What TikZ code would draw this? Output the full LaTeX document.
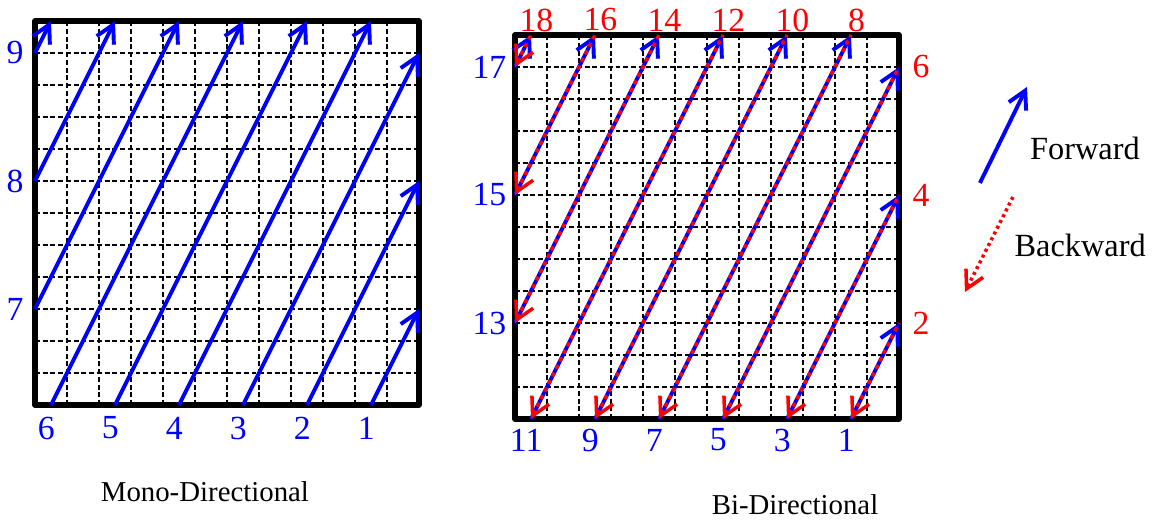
\documentclass[tikz,border=0pt]{standalone}
\usepackage{fontspec}
\setmainfont{Liberation Serif}
\usepackage{tikz}
\usetikzlibrary{arrows.meta}
\definecolor{fwdblue}{RGB}{0,0,255}
\definecolor{bwdred}{RGB}{255,0,0}
\tikzset{
  gridline/.style={draw=black,dash pattern=on 3.5pt off 2pt,line width=0.95pt},
  gridframe/.style={draw=black,line width=3.6pt,line join=round},
  fwd/.style={-{Straight Barb[length=4.4mm,width=4.8mm]},draw=fwdblue,line width=2.8pt},
  bwd/.style={{Straight Barb[length=4.4mm,width=4.8mm]}-,draw=bwdred,line width=2.5pt,
    dash pattern=on 3pt off 3pt},
  fwdlab/.style={text=fwdblue,font=\fontsize{24}{28}\selectfont,inner sep=0pt},
  bwdlab/.style={text=bwdred,font=\fontsize{24}{28}\selectfont,inner sep=0pt},
  caplab/.style={text=black,font=\fontsize{20.5}{24}\selectfont,inner sep=0pt},
  keylab/.style={text=black,font=\fontsize{23}{27}\selectfont,inner sep=0pt},
}

\begin{document}
\begin{tikzpicture}[x=0.8cm,y=0.8cm]
  \useasboundingbox (-1.094,-3.625) rectangle (35.062,12.656);
  % --- Mono-Directional: grid ---
  \foreach \i in {1,...,11}{
    \draw[gridline] (\i,0) -- (\i,12);
    \draw[gridline] (0,\i) -- (12,\i);}
  \draw[gridframe] (0,0) rectangle (12,12);
  % --- Mono-Directional: scan lines ---
  \foreach \n/\sx/\sy/\ex/\ey in {1/10.5/0/12/3,2/8.5/0/12/7,3/6.5/0/12/11,
      4/4.5/0/10.5/12,5/2.5/0/8.5/12,6/0.5/0/6.5/12,7/0/3/4.5/12,8/0/7/2.5/12,9/0/11/0.5/12}{
    \coordinate (ms\n) at (\sx,\sy);
    \coordinate (me\n) at (\ex,\ey);
    \draw[fwd] (ms\n) -- (me\n);}
  \foreach \n/\x in {1/10.35,2/8.35,3/6.35,4/4.35,5/2.35,6/0.35}{
    \node[fwdlab] (ml\n) at (\x,-0.72) {\n};}
  \foreach \n/\y in {7/3,8/7,9/11}{
    \node[fwdlab] (ml\n) at (-0.62,\y) {\n};}
  \node[caplab] (mono) at (5.31,-2.72) {Mono-Directional};
  % --- Bi-Directional: grid ---
  \begin{scope}[shift={(15,-0.4375)}]
    \foreach \i in {1,...,11}{
      \draw[gridline] (\i,0) -- (\i,12);
      \draw[gridline] (0,\i) -- (12,\i);}
    \draw[gridframe] (0,0) rectangle (12,12);
    % --- Bi-Directional: forward and backward lines ---
    \foreach \n/\sx/\sy/\ex/\ey in {1/10.5/0/12/3,2/8.5/0/12/7,3/6.5/0/12/11,
        4/4.5/0/10.5/12,5/2.5/0/8.5/12,6/0.5/0/6.5/12,7/0/3/4.5/12,8/0/7/2.5/12,9/0/11/0.5/12}{
      \coordinate (bs\n) at (\sx,\sy);
      \coordinate (be\n) at (\ex,\ey);
      \draw[fwd] (bs\n) -- (be\n);
      \draw[bwd] (bs\n) -- (be\n);}
    \foreach \n/\x in {1/10.35,3/8.35,5/6.35,7/4.35,9/2.35,11/0.35}{
      \node[fwdlab] (bl\n) at (\x,-0.66) {\n};}
    \foreach \n/\y in {13/3,15/7,17/11}{
      \node[fwdlab] (bl\n) at (-0.8,\y) {\n};}
    \foreach \n/\y in {2/3,4/7,6/11}{
      \node[bwdlab] (bl\n) at (12.69,\y) {\n};}
    \foreach \n/\x in {8/10.67,10/8.67,12/6.67,14/4.67,16/2.67,18/0.67}{
      \node[bwdlab] (bl\n) at (\x,12.47) {\n};}
  \end{scope}
  \node[caplab] (bi) at (23.75,-3.125) {Bi-Directional};
  % --- Legend ---
  \coordinate (fwdtail) at (29.53,6.94);
  \coordinate (fwdtip)  at (31.0,9.94);
  \coordinate (bwdtail) at (30.56,6.5);
  \coordinate (bwdtip)  at (29.06,3.53);
  \draw[-{Straight Barb[length=4.4mm,width=4.8mm]},draw=fwdblue,line width=2.8pt] (fwdtail) -- (fwdtip);
  \draw[-{Straight Barb[length=4.4mm,width=4.8mm]},draw=bwdred,line width=2.5pt,
    dash pattern=on 2.2pt off 2.4pt] (bwdtail) -- (bwdtip);
  \node[keylab] (fwdtext) at (32.81,8.03) {Forward};
  \node[keylab] (bwdtext) at (32.66,5.0) {Backward};
\end{tikzpicture}
\end{document}
